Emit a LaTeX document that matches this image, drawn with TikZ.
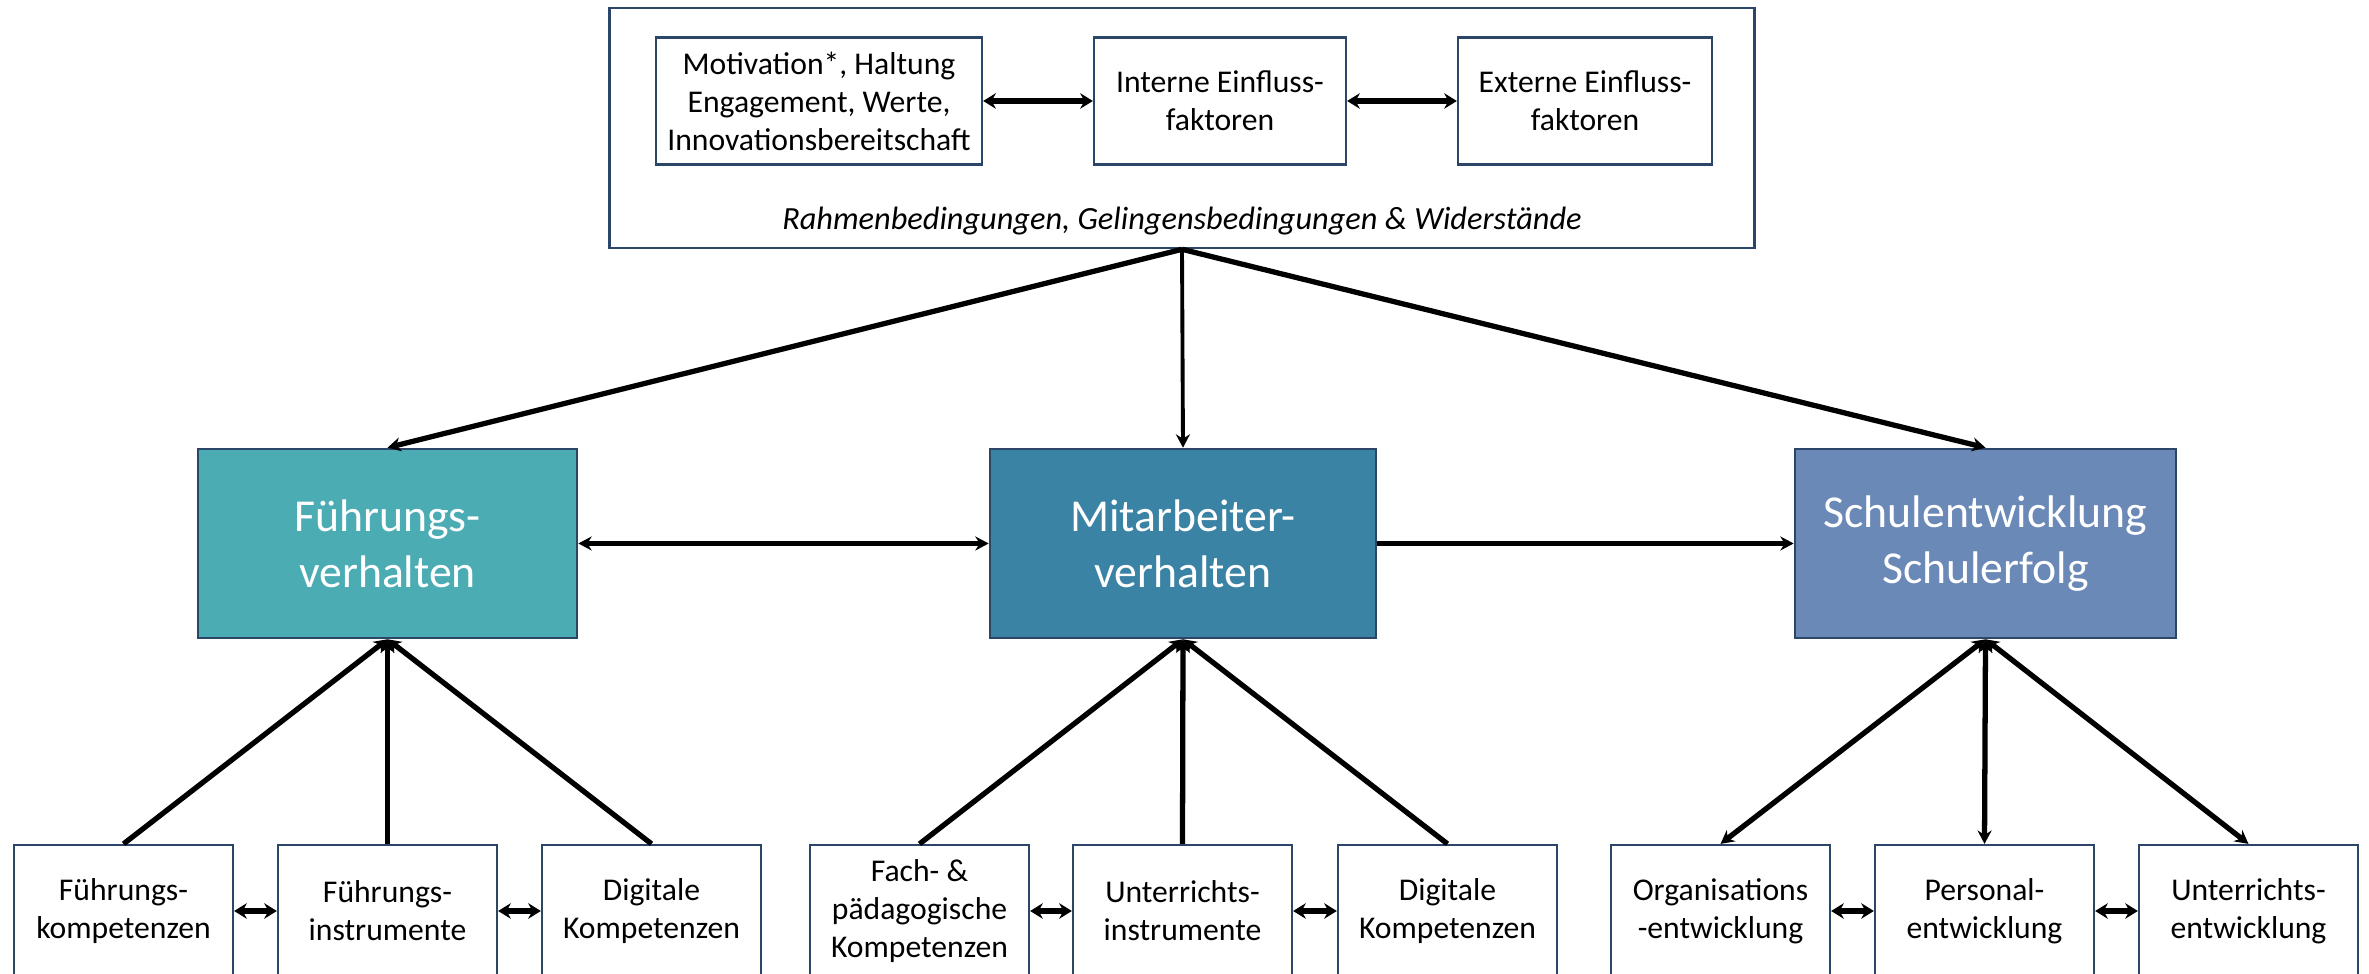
\documentclass[tikz,border=0pt]{standalone}
\usepackage{fontspec}
\setmainfont{Carlito}
\usetikzlibrary{arrows.meta}
\definecolor{rand}{RGB}{44,70,105}
\definecolor{fuehrfarbe}{RGB}{75,172,180}
\definecolor{mitfarbe}{RGB}{58,131,164}
\definecolor{schulfarbe}{RGB}{107,137,183}
\tikzset{
  kasten/.style={draw=rand, line width=0.6pt, fill=white, align=center, inner sep=1pt,
    font=\fontsize{9}{10.8}\selectfont},
  unten/.style={kasten, minimum width=2.19cm, minimum height=1.32cm},
  haupt/.style={draw=rand, line width=0.7pt, align=center, text=white, minimum width=3.8cm,
    minimum height=1.89cm, font=\fontsize{13}{15.9}\selectfont},
  pfeil/.style={line width=1.5pt, >={Stealth[length=3.8pt,width=4pt]}},
  kurz/.style={<->, line width=1.6pt, >={Stealth[length=3.6pt,width=4.4pt]}},
}
\begin{document}
\begin{tikzpicture}[x=0.01cm, y=-0.01cm]
  \useasboundingbox (0,0) rectangle (2369,974);
  \clip (0,0) rectangle (2369,974);
  % Rahmen oben
  \node[draw=rand, line width=0.7pt, minimum width=11.44cm, minimum height=2.40cm] (rahmen) at (1182,128) {};
  \node[kasten, minimum width=3.26cm, minimum height=1.27cm] (motiv) at (819,101)
    {Motivation*, Haltung\\Engagement, Werte,\\Innovationsbereitschaft};
  \node[kasten, minimum width=2.52cm, minimum height=1.27cm] (intern) at (1220,101) {Interne Einfluss-\\faktoren};
  \node[kasten, minimum width=2.54cm, minimum height=1.27cm] (extern) at (1585,101) {Externe Einfluss-\\faktoren};
  \node[font=\fontsize{9.2}{11}\selectfont\itshape] (rahmentext) at (1182,221)
    {Rahmenbedingungen, Gelingensbedingungen \& Widerstände};
  \draw[kurz, line width=1.9pt] (motiv) -- (intern);
  \draw[kurz, line width=1.9pt] (intern) -- (extern);

  % mittlere Ebene
  \node[haupt, fill=fuehrfarbe, minimum width=3.79cm] (fuehrung) at (387.5,543.5) {Führungs-\\verhalten};
  \node[haupt, fill=mitfarbe, minimum width=3.86cm] (mitarb) at (1183,543.5) {Mitarbeiter-\\verhalten};
  \node[haupt, fill=schulfarbe, minimum width=3.81cm] (schule) at (1985.5,543.5) {Schulentwicklung\\Schulerfolg};
  \draw[pfeil, ->] (rahmen.south) -- (fuehrung.north);
  \draw[pfeil, ->, line width=1.1pt] (rahmen.south) -- (mitarb.north);
  \draw[pfeil, ->] (rahmen.south) -- (schule.north);
  \draw[pfeil, <->] (fuehrung) -- (mitarb);
  \draw[pfeil, ->] (mitarb) -- (schule);

  % untere Ebene
  \node[unten] (fkomp) at (123.5,911) {Führungs-\\kompetenzen};
  \node[unten] (finstr) at (387.5,911) {Führungs-\\instrumente};
  \node[unten] (fdigi) at (651.5,911) {Digitale\\Kompetenzen};
  \node[unten] (mkomp) at (919.5,911) {Fach- \&\\pädagogische\\Kompetenzen};
  \node[unten] (minstr) at (1182.5,911) {Unterrichts-\\instrumente};
  \node[unten] (mdigi) at (1447.5,911) {Digitale\\Kompetenzen};
  \node[unten] (orga) at (1720.5,911) {Organisations\\-entwicklung};
  \node[unten] (personal) at (1984.5,911) {Personal-\\entwicklung};
  \node[unten] (unterricht) at (2248.5,911) {Unterrichts-\\entwicklung};

  \foreach \k in {fkomp,finstr,fdigi}
    \draw[pfeil, ->] (\k.north) -- (fuehrung.south);
  \foreach \k in {mkomp,minstr,mdigi}
    \draw[pfeil, ->] (\k.north) -- (mitarb.south);
  \foreach \k in {orga,personal,unterricht}
    \draw[pfeil, <->] (\k.north) -- (schule.south);

  \draw[kurz] (fkomp) -- (finstr);
  \draw[kurz] (finstr) -- (fdigi);
  \draw[kurz] (mkomp) -- (minstr);
  \draw[kurz] (minstr) -- (mdigi);
  \draw[kurz] (orga) -- (personal);
  \draw[kurz] (personal) -- (unterricht);
\end{tikzpicture}
\end{document}
